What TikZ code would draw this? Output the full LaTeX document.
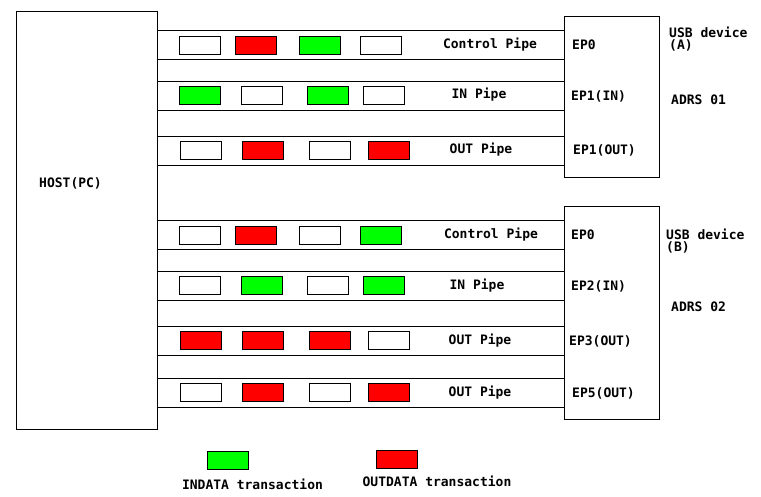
\documentclass[tikz,border=0pt]{standalone}
\usepackage{fontspec}
\setmainfont{DejaVu Sans Mono}
\begin{document}
\begin{tikzpicture}[x=1pt,y=-1pt,
  bx/.style={draw=black,line width=1pt,inner sep=0pt,anchor=center},
  tx/.style={inner sep=0pt,font=\fontsize{13}{12}\selectfont\bfseries},
  pipe/.style={line width=1pt},
  tr/.style={draw=black,line width=1pt,inner sep=0pt,minimum width=41pt,minimum height=18pt},
  gw/.style={tr,fill=white},
  gg/.style={tr,fill=green},
  gr/.style={tr,fill=red}]
\useasboundingbox (0,0) rectangle (761,496);
\fill[white] (0,0) rectangle (761,496);
% main boxes
\node[bx,minimum width=141pt,minimum height=418pt] (host) at (86.5,220) {};
\node[bx,minimum width=95pt,minimum height=161pt] (devA) at (611.5,96.5) {};
\node[bx,minimum width=95pt,minimum height=213pt] (devB) at (611.5,312.5) {};
\node[tx,anchor=west] (hostlbl) at (39,183) {HOST(PC)};
% pipe lines A
\foreach \yy in {30,59,81,110,136,165}{
  \draw[pipe] (host.east |- 0,\yy) -- (devA.west |- 0,\yy);
}
% pipe lines B
\foreach \yy in {220,249,271,300,326,355,378,407}{
  \draw[pipe] (host.east |- 0,\yy) -- (devB.west |- 0,\yy);
}
% transaction boxes
\foreach \yc/\a/\b/\c/\d/\sa/\sb/\sc/\sd [count=\r] in {
  45/179/235/299/360/gw/gr/gg/gw,
  95/179/241/307/363/gg/gw/gg/gw,
  150/180/242/309/368/gw/gr/gw/gr,
  235/179/235/299/360/gw/gr/gw/gg,
  285/179/241/307/363/gw/gg/gw/gg,
  340/180/242/309/368/gr/gr/gr/gw,
  392/180/242/309/368/gw/gr/gw/gr}{
  \node[\sa] (t\r a) at (\a+20.5,\yc) {};
  \node[\sb] (t\r b) at (\b+20.5,\yc) {};
  \node[\sc] (t\r c) at (\c+20.5,\yc) {};
  \node[\sd] (t\r d) at (\d+20.5,\yc) {};
}
% pipe labels A
\node[tx] (pa1) at (490,45) {Control Pipe};
\node[tx] (pa2) at (479,95) {IN Pipe};
\node[tx] (pa3) at (481,150) {OUT Pipe};
\node[tx,anchor=west] (ea1) at (572,45) {EP0};
\node[tx,anchor=west] (ea2) at (571,96) {EP1(IN)};
\node[tx,anchor=west] (ea3) at (573,150) {EP1(OUT)};
\node[tx,anchor=north west,align=left] (ua) at (669,27) {USB device\\(A)};
\node[tx,anchor=west] (adra) at (671,100) {ADRS 01};
% pipe labels B
\node[tx] (pb1) at (491,235) {Control Pipe};
\node[tx] (pb2) at (477,286) {IN Pipe};
\node[tx] (pb3) at (480,341) {OUT Pipe};
\node[tx] (pb4) at (480,393) {OUT Pipe};
\node[tx,anchor=west] (eb1) at (571,235) {EP0};
\node[tx,anchor=west] (eb2) at (571,286) {EP2(IN)};
\node[tx,anchor=west] (eb3) at (569,341) {EP3(OUT)};
\node[tx,anchor=west] (eb4) at (572,393) {EP5(OUT)};
\node[tx,anchor=north west,align=left] (ub) at (666,229) {USB device\\(B)};
\node[tx,anchor=west] (adrb) at (671,307) {ADRS 02};
% legend
\node[gg] (lg) at (228,460) {};
\node[gr] (lr) at (397,459) {};
\node[tx] (lgt) at (252.5,484) {INDATA transaction};
\node[tx] (lrt) at (437,481) {OUTDATA transaction};
\end{tikzpicture}
\end{document}
